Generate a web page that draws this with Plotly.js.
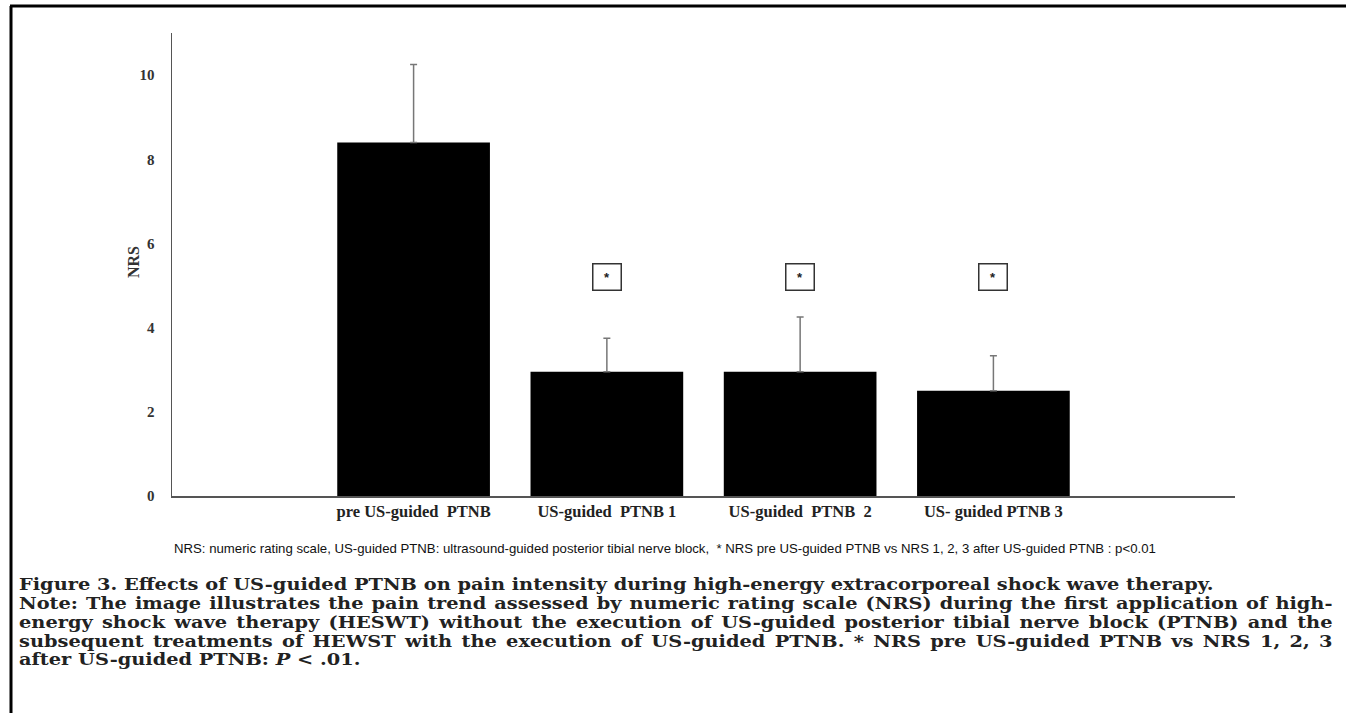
<!DOCTYPE html>
<html>
<head>
<meta charset="utf-8">
<script src="https://cdn.plot.ly/plotly-3.0.1.min.js"></script>
<style>
  html, body { margin: 0; padding: 0; background: #fff; }
  #chart { width: 1346px; height: 713px; }
</style>
</head>
<body>
<div id="chart"></div>
<script>
// ---- data ----
const categories = ["pre US-guided  PTNB", "US-guided  PTNB 1", "US-guided  PTNB  2", "US- guided PTNB 3"];
const nrsMean = [8.4, 2.95, 2.95, 2.5];
const nrsSD = [1.85, 0.8, 1.3, 0.83];
const starCats = [1, 2, 3];
const yTicks = [0, 2, 4, 6, 8, 10];

const noteText = "NRS: numeric rating scale, US-guided PTNB: ultrasound-guided posterior tibial nerve block,  * NRS pre US-guided PTNB vs NRS 1, 2, 3 after US-guided PTNB : p&lt;0.01";
const captionLines = [
  "Figure 3. Effects of US-guided PTNB on pain intensity during high-energy extracorporeal shock wave therapy.",
  "Note: The image illustrates the pain trend assessed by numeric rating scale (NRS) during the first application of high-",
  "energy shock wave therapy (HESWT) without the execution of US-guided posterior tibial nerve block (PTNB) and the",
  "subsequent treatments of HEWST with the execution of US-guided PTNB. * NRS pre US-guided PTNB vs NRS 1, 2, 3",
  "after US-guided PTNB: <i>P</i> &lt; .01."
];
const justifiedLines = [1, 2, 3];

// ---- layout geometry (pixels) ----
const W = 1346, H = 713;
const L = 172, R = 1235, T = 33, B = 496;
const px = x => (x - L) / (R - L);
const py = y => (B - y) / (B - T);
const captionLeft = 17, captionRight = 1331, firstLineRight = 1212;

const serifBold = "Liberation Serif";
const captionFont = "DejaVu Serif";
const xIdx = categories.map((c, i) => i);

const trace = {
  type: "bar",
  x: xIdx,
  y: nrsMean,
  marker: { color: "#000000", line: { width: 0 } },
  error_y: { type: "data", array: nrsSD, symmetric: false, arrayminus: nrsSD.map(() => 0),
             color: "#777777", thickness: 1.5, width: 3.5 },
  hoverinfo: "skip"
};

const annotations = [];
const captionStart = annotations.length;
captionLines.forEach((t, k) => {
  annotations.push({
    x: px(captionLeft), y: py(584 + k * 19), xref: "paper", yref: "paper",
    text: "<b>" + t + "</b>", showarrow: false, xanchor: "left", yanchor: "middle", align: "left",
    font: { family: captionFont, size: 16.5, color: "#222" }
  });
});
starCats.forEach(i => {
  annotations.push({
    x: i, y: 5.2, xref: "x", yref: "y",
    text: "<b>*</b>", showarrow: false,
    font: { family: "Liberation Sans", size: 13, color: "#222" },
    bordercolor: "#333", borderwidth: 1.5, borderpad: 0,
    width: 27, height: 25, bgcolor: "#fff"
  });
});
annotations.push({
  x: px(665), y: py(548), xref: "paper", yref: "paper",
  text: noteText, showarrow: false, xanchor: "center", yanchor: "middle",
  font: { family: "Liberation Sans Narrow, Liberation Sans", size: 13.2, color: "#111" }
});
annotations.push({
  x: px(133), y: py(262), xref: "paper", yref: "paper",
  text: "<b>NRS</b>", showarrow: false, textangle: -90, xanchor: "center", yanchor: "middle",
  font: { family: serifBold, size: 16, color: "#333" }
});

const shapes = [
  { type: "line", xref: "paper", yref: "paper", x0: px(11), x1: px(11), y0: py(6), y1: py(720),
    line: { color: "#000", width: 3 } },
  { type: "line", xref: "paper", yref: "paper", x0: px(10), x1: px(1360), y0: py(6), y1: py(6),
    line: { color: "#000", width: 3 } }
];

const layout = {
  width: W, height: H,
  margin: { l: L, r: W - R, t: T, b: H - B, pad: 0 },
  paper_bgcolor: "#fff", plot_bgcolor: "#fff",
  showlegend: false,
  bargap: 0.21,
  xaxis: {
    range: [-1.25, 4.25],
    tickmode: "array", tickvals: xIdx, ticktext: categories.map(c => "<b>" + c + "</b>"),
    showline: true, linecolor: "#555", linewidth: 1.5,
    showgrid: false, zeroline: false, ticks: "",
    tickfont: { family: serifBold, size: 16.5, color: "#222" },
    fixedrange: true
  },
  yaxis: {
    range: [0, 11],
    tickmode: "array", tickvals: yTicks, ticktext: yTicks.map(v => "<b>" + v + "</b>"),
    showline: true, linecolor: "#555", linewidth: 1.5,
    showgrid: false, zeroline: false, ticks: "", ticklabelstandoff: 13,
    tickfont: { family: serifBold, size: 15, color: "#333" },
    fixedrange: true
  },
  annotations: annotations,
  shapes: shapes
};

Plotly.newPlot("chart", [trace], layout, { displayModeBar: false, staticPlot: true }).then(gd => {
  // The printed caption face is wide: stretch the caption horizontally so its first line
  // spans like the original, then justify the middle lines to the full text width.
  const texts = captionLines.map((t, k) => {
    const g = gd.querySelector('g.annotation[data-index="' + (captionStart + k) + '"]');
    return g ? g.querySelector("text.annotation-text") : null;
  });
  if (!texts[0]) return;
  const s = (firstLineRight - captionLeft) / texts[0].getBBox().width;
  texts.forEach((txt, k) => {
    if (!txt) return;
    if (justifiedLines.indexOf(k) >= 0) {
      const spaces = (txt.textContent.match(/ /g) || []).length;
      const w = txt.getBBox().width;
      const target = (captionRight - captionLeft) / s;
      if (spaces > 0 && w < target) txt.style.wordSpacing = ((target - w) / spaces) + "px";
    }
    txt.style.transformBox = "fill-box";
    txt.style.transformOrigin = "left center";
    txt.style.transform = "scaleX(" + s + ")";
  });
});
</script>
</body>
</html>
